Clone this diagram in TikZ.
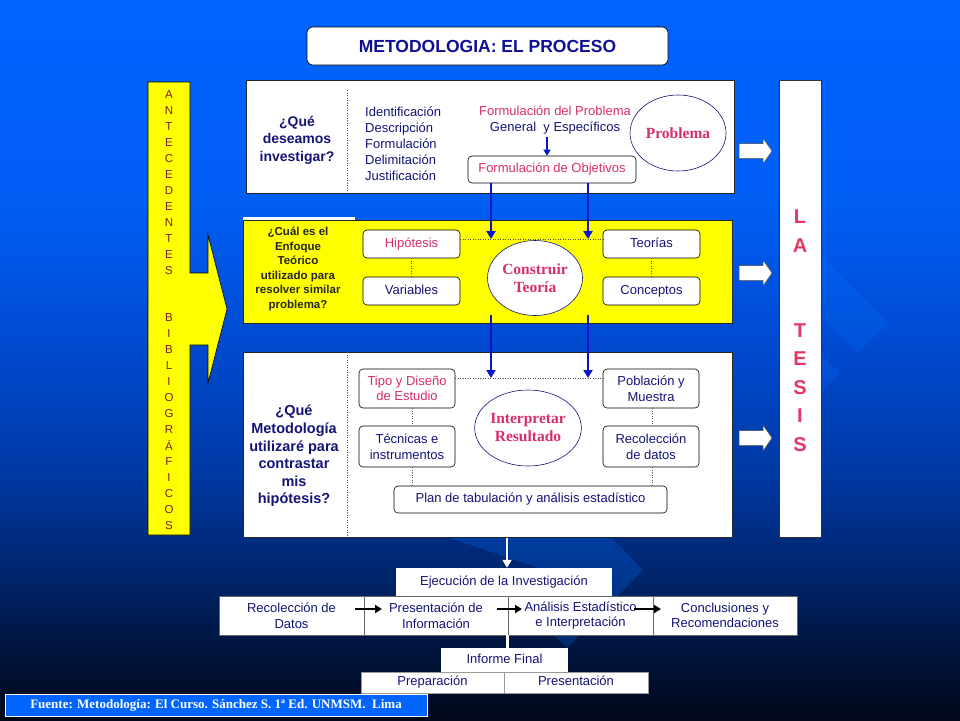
\documentclass[tikz,border=0pt]{standalone}
\usepackage{fontspec}
\setmainfont{Liberation Sans}
\newfontfamily\serifb{Liberation Serif}
\usetikzlibrary{arrows.meta,shapes.geometric}
\definecolor{navy}{RGB}{20,20,120}
\definecolor{pinkt}{RGB}{215,45,110}
\definecolor{titleblue}{RGB}{15,15,150}
\definecolor{tesis}{RGB}{230,55,100}
\definecolor{antec}{RGB}{125,30,30}
\definecolor{arrblue}{RGB}{10,20,200}
\definecolor{footblue}{RGB}{0,100,255}
\definecolor{yel}{RGB}{255,255,0}
\definecolor{glowblue}{RGB}{0,110,255}
\pgfdeclareverticalshading{bgshade}{100bp}{rgb(0bp)=(0,0.03,0.1); rgb(25bp)=(0,0.03,0.1); rgb(29.9bp)=(0,0.08,0.24); rgb(34.7bp)=(0,0.14,0.41); rgb(41.7bp)=(0,0.22,0.63); rgb(50bp)=(0,0.28,0.8); rgb(61.1bp)=(0,0.37,0.96); rgb(75bp)=(0,0.39,1); rgb(100bp)=(0,0.39,1)}
\newcommand\fbody{\fontsize{13}{15.6}\selectfont}
\tikzset{
  panel/.style={draw=black!85, line width=0.6pt, inner sep=0pt},
  rbox/.style={draw=black, fill=white, rounded corners=4pt, line width=0.6pt, align=center, inner sep=0pt, font=\fbody},
  ell/.style={ellipse, draw=navy, fill=white, line width=0.6pt, inner sep=0pt, align=center, font=\serifb\bfseries\fontsize{15.5}{18}\selectfont, text=pinkt},
  dots/.style={draw=black!70, dotted, line width=0.5pt},
  barrow/.style={draw=arrblue, line width=2.7pt, -{Triangle[length=8pt,width=9pt]}},
  sarrow/.style={draw=arrblue, line width=2pt, -{Triangle[length=6pt,width=7pt]}},
  karrow/.style={draw=black, line width=2.6pt, -{Triangle[length=7pt,width=8pt]}},
  warrow/.style={draw=black!70, fill=white, line width=0.5pt},
  flatbox/.style={draw=black!60, fill=white, line width=0.5pt, inner sep=0pt, align=center, font=\fbody, text=navy},
  oneline/.style={text height=9.5pt, text depth=3pt},
  antl/.style={font=\fontsize{11.5}{13}\selectfont, text=antec, inner sep=0pt},
  tesl/.style={font=\bfseries\fontsize{20}{22}\selectfont, text=tesis, inner sep=0pt},
  glow/.style={fill=glowblue, opacity=0.25, draw=none},
}
\begin{document}
\begin{tikzpicture}[x=1pt,y=-1pt]
\useasboundingbox (0,0) rectangle (960,720);
\path[shading=bgshade] (0,0) rectangle (960,720);
% faint background chevrons
\fill[glow] (800,235) -- (888,323) -- (858,353) -- (800,295) -- cycle;
\fill[glow] (800,333) -- (840,373) -- (810,403) -- (800,393) -- cycle;
\fill[glow] (450,538) -- (612,538) -- (643,570) -- (567,648) -- (530,612) -- (560,575) -- cycle;

% title
\node[draw=black, fill=white, rounded corners=6pt, line width=0.6pt, minimum width=361, minimum height=38, inner sep=0pt,
  font=\bfseries\fontsize{17.5}{20}\selectfont, text=titleblue] (title) at (487.5,46) {METODOLOGIA: EL PROCESO};

% left yellow arrow
\draw[fill=yel, draw=black, line width=0.6pt] (148,82) -- (190,82) -- (190,273) -- (208,273) -- (208,235) -- (227,309)
  -- (208,383) -- (208,345) -- (190,345) -- (190,535) -- (148,535) -- cycle;
\foreach \l [count=\i] in {A,N,T,E,C,E,D,E,N,T,E,S,{},{},B,I,B,L,I,O,G,R,Á,F,I,C,O,S}
  \node[antl] (ant\i) at (169,{95+(\i-1)*15.93}) {\l};

% LA TESIS bar
\node[draw=black!80, fill=white, line width=0.6pt, minimum width=42, minimum height=457, inner sep=0pt] (tesbar) at (800,308.5) {};
\foreach \l [count=\i] in {L,A,{},{},T,E,S,I,S}
  \node[tesl] (ts\i) at (800,{217+(\i-1)*28.4}) {\l};

% right white arrows
\foreach \yy [count=\i] in {151,273,438}
  \draw[warrow] (739,{\yy-7.5}) -- (763,{\yy-7.5}) -- (763,{\yy-13}) -- (772,\yy) -- (763,{\yy+13}) -- (763,{\yy+7.5}) -- (739,{\yy+7.5}) -- cycle;

% ---------- panel 1
\node[panel, fill=white, minimum width=488, minimum height=113] (p1) at (490,136.5) {};
\coordinate (sep1a) at (347,90); \coordinate (sep1b) at (347,192);
\draw[dots] (sep1a) -- (sep1b);
\node[align=center, text=navy, font=\bfseries\fontsize{14}{17.5}\selectfont] (q1) at (297,140) {¿Qué\\deseamos\\investigar?};
\node[align=left, anchor=west, text=navy, font=\fontsize{13}{15.9}\selectfont, inner sep=0pt] (list) at (365,144)
  {Identificación\\Descripción\\Formulación\\Delimitación\\Justificación};
\node[align=center, font=\fbody, inner sep=0pt] (fp) at (555,120)
  {\textcolor{pinkt}{Formulación del Problema}\\\textcolor{navy}{General~ y Específicos}};
\node[rbox, oneline, minimum width=168, minimum height=27, text=pinkt] (obj) at (552,169.5) {Formulación de Objetivos};
\node[ell, minimum width=96, minimum height=76] (prob) at (678,133) {Problema};
\coordinate (sa) at (547,137);
\draw[sarrow] (sa) -- (sa |- obj.north);

% ---------- panel 2
\coordinate (wsa) at (243,217); \coordinate (wsb) at (355,221);
\fill[white] (wsa) rectangle (wsb);
\node[panel, fill=yel, minimum width=489, minimum height=103] (p2) at (487.5,271.5) {};
\node[align=center, text=black!85, font=\bfseries\fontsize{11.5}{14.5}\selectfont] (q2) at (298,269)
  {¿Cuál es el\\Enfoque\\Teórico\\utilizado para\\resolver similar\\problema?};
\node[rbox, oneline, minimum width=97, minimum height=28, text=pinkt] (hip) at (411.5,244) {Hipótesis};
\node[rbox, oneline, minimum width=97, minimum height=28, text=navy] (var) at (411.5,291) {Variables};
\node[rbox, oneline, minimum width=97, minimum height=28, text=navy] (teo) at (651.5,244) {Teorías};
\node[rbox, oneline, minimum width=97, minimum height=28, text=navy] (con) at (651.5,291) {Conceptos};
\coordinate (d1) at (460,239); \coordinate (d2) at (603,239);
\draw[dots] (d1) -- (d2);
\draw[dots] (hip.south) -- (var.north);
\draw[dots] (teo.south) -- (con.north);
\node[ell, minimum width=95, minimum height=75] (ct) at (535,278) {Construir\\Teoría};
\coordinate (t1) at (491,239); \coordinate (t2) at (588,239);
\draw[barrow] (obj.south -| t1) -- (t1);
\draw[barrow] (obj.south -| t2) -- (t2);

% ---------- panel 3
\node[panel, fill=white, minimum width=489, minimum height=185] (p3) at (487.5,444.5) {};
\coordinate (sep3a) at (347,352); \coordinate (sep3b) at (347,537);
\draw[dots] (sep3a) -- (sep3b);
\node[align=center, text=navy, font=\bfseries\fontsize{14.5}{17.6}\selectfont] (q3) at (294,456)
  {¿Qué\\Metodología\\utilizaré para\\contrastar\\mis\\hipótesis?};
\node[rbox, minimum width=96, minimum height=39, text=pinkt] (tipo) at (407,388.5) {Tipo y Diseño\\de Estudio};
\node[rbox, minimum width=96, minimum height=41, text=navy] (tec) at (407,446.5) {Técnicas e\\instrumentos};
\node[rbox, minimum width=96, minimum height=39, text=navy] (pob) at (651,388.5) {Población y\\Muestra};
\node[rbox, minimum width=96, minimum height=41, text=navy] (rec) at (651,446.5) {Recolección\\de datos};
\node[rbox, oneline, minimum width=273, minimum height=27, text=navy] (plan) at (530.5,499.5) {Plan de tabulación y análisis estadístico};
\coordinate (v1) at (412,0); \coordinate (v2) at (652,0);
\draw[dots] (tipo.south -| v1) -- (tec.north -| v1);
\draw[dots] (tec.south -| v1) -- (plan.north -| v1);
\draw[dots] (pob.south -| v2) -- (rec.north -| v2);
\draw[dots] (rec.south -| v2) -- (plan.north -| v2);
\coordinate (d3) at (455,378); \coordinate (d4) at (603,378);
\draw[dots] (d3) -- (d4);
\node[ell, minimum width=95, minimum height=76] (ir) at (528,428) {Interpretar\\Resultado};
\coordinate (s3) at (491,315); \coordinate (t3) at (491,378);
\coordinate (s4) at (588,315); \coordinate (t4) at (588,378);
\draw[barrow] (s3) -- (t3);
\draw[barrow] (s4) -- (t4);

% ---------- bottom
\node[flatbox, oneline, draw=none, minimum width=216, minimum height=28] (eje) at (504,582) {Ejecución de la Investigación};
\coordinate (w0) at (507,538);
\draw[draw=white, line width=2.6pt, -{Triangle[length=8pt,width=9pt]}] (w0) -- (eje.north -| w0);
\node[flatbox, minimum width=145, minimum height=39] (r1) at (291.5,615.5) {Recolección de\\Datos};
\node[flatbox, minimum width=144, minimum height=39] (r2) at (436,615.5) {Presentación de\\Información};
\node[flatbox, minimum width=145, minimum height=39] (r3) at (580.5,615.5) {Análisis Estadístico\\e Interpretación};
\node[flatbox, minimum width=144, minimum height=39] (r4) at (725,615.5) {Conclusiones y\\Recomendaciones};
\coordinate (k1a) at (355,609); \coordinate (k1b) at (382,609);
\coordinate (k2a) at (497,609); \coordinate (k2b) at (522,609);
\coordinate (k3a) at (634,609); \coordinate (k3b) at (661,609);
\draw[karrow] (k1a) -- (k1b);
\draw[karrow] (k2a) -- (k2b);
\draw[karrow] (k3a) -- (k3b);
\node[flatbox, oneline, draw=none, minimum width=127, minimum height=24] (inf) at (504.5,660) {Informe Final};
\draw[white, line width=3pt] (r3.south west) -- (inf.north -| r3.south west);
\node[flatbox, oneline, draw=black!40, minimum width=143, minimum height=21] (prep) at (432.5,682.5) {Preparación};
\node[flatbox, oneline, draw=black!40, minimum width=144, minimum height=21] (pres) at (576,682.5) {Presentación};

% footer
\node[draw=white, fill=footblue, line width=0.8pt, minimum width=422, minimum height=22, inner sep=0pt,
  text=white, font=\serifb\bfseries\fontsize{13}{15}\selectfont] (foot) at (216,705)
  {Fuente: Metodología: El Curso. Sánchez S. 1ª Ed. UNMSM.~ Lima};
\end{tikzpicture}
\end{document}
